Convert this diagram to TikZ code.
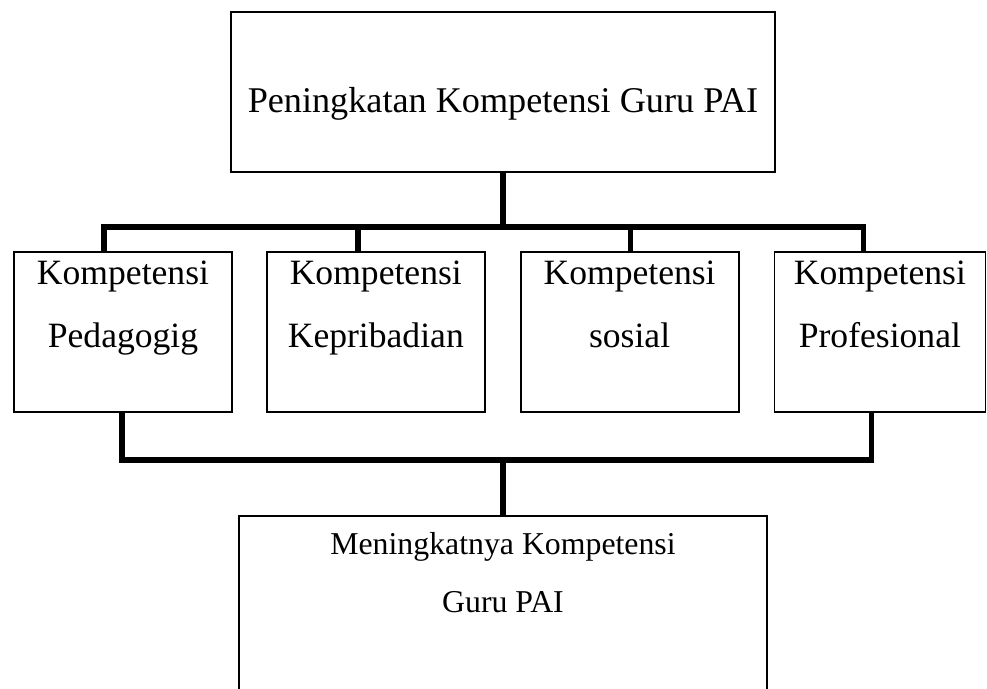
\documentclass[tikz,border=0pt]{standalone}
\usepackage{fontspec}
\setmainfont{Liberation Serif}
\usepackage{tikz}
\usetikzlibrary{positioning}
\tikzset{
  kotak/.style = {rectangle, draw=black, inner sep=0pt, line width=1.8pt},
  kotak_atas/.style = {kotak, minimum width=544pt, minimum height=160pt,
    font=\fontsize{36.2}{40}\selectfont, text height=40pt, text depth=0pt},% kotak judul
  kotak_komp/.style = {kotak, minimum width=218pt, minimum height=160pt},% kotak kompetensi
  kotak_hasil/.style = {kotak, minimum width=528pt, minimum height=200pt},% kotak hasil
  teks_komp/.style = {align=center, inner sep=0pt,
    font=\fontsize{35.6}{63}\selectfont},
  teks_hasil/.style = {align=center, inner sep=0pt,
    font=\fontsize{31.8}{58}\selectfont},
  garis/.style = {draw=black, line width=5.5pt}% garis penghubung tebal
}

\begin{document}
\begin{tikzpicture}[x=1pt,y=-1pt]
\path[use as bounding box, clip] (0,0) rectangle (987,688);
\node[kotak_atas] (atas) at (503,92) {Peningkatan Kompetensi Guru PAI};
% empat kompetensi
\node[kotak_komp] (ped) at (123,332) {};
\node[kotak_komp, right=33pt of ped] (kep) {};
\node[kotak_komp, right=34pt of kep] (sos) {};
\node[kotak_komp, right=34pt of sos, minimum width=211pt] (pro) {};
\node[teks_komp, below=10pt of ped.north] (t_ped) {Kompetensi\\Pedagogig};
\node[teks_komp, below=10pt of kep.north] (t_kep) {Kompetensi\\Kepribadian};
\node[teks_komp, below=10pt of sos.north] (t_sos) {Kompetensi\\sosial};
\node[teks_komp, below=10pt of pro.north] (t_pro) {Kompetensi\\Profesional};
% hasil
\node[kotak_hasil] (hasil) at (503,616) {};
\node[teks_hasil, below=17pt of hasil.north] (t_hasil) {Meningkatnya Kompetensi\\Guru PAI};
% penghubung
\coordinate (cabang) at (503,227);
\coordinate (gabung) at (503,460);
\draw[garis] (atas.south) -- (cabang);
\draw[garis] ([xshift=-19pt]ped.north) |- (cabang) -| ([xshift=-16.5pt]pro.north);
\draw[garis] ([xshift=-18pt]kep.north) |- (cabang);
\draw[garis] ([xshift=1pt]sos.north) |- (cabang);
\draw[garis] ([xshift=-1pt]ped.south) |- (gabung) -| ([xshift=-8.5pt]pro.south);
\draw[garis] (gabung) -- (hasil.north);
\end{tikzpicture}
\end{document}
